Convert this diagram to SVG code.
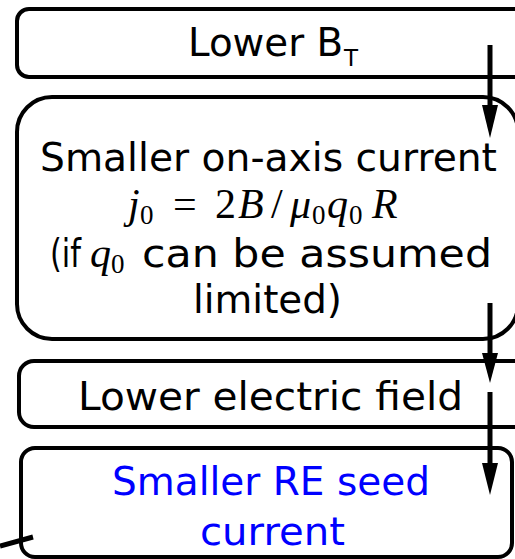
<svg xmlns="http://www.w3.org/2000/svg" width="515" height="559" viewBox="0 0 515 559">
<style>
.box{fill:#fff;stroke:#000;stroke-width:4}
.conn{stroke:#000;stroke-width:5;fill:none}
.head{fill:#000}
.t{font-family:"DejaVu Sans","Liberation Sans",sans-serif;font-size:39px;fill:#000}
.blue{fill:#0000FF}
.m{font-family:"Liberation Serif","DejaVu Serif",serif;font-size:42px;fill:#000}
.i{font-style:italic}
.sub{font-size:27px}
</style>
<rect width="515" height="559" fill="#fff"/>
<g id="node-lower-bt">
<rect class="box" x="17" y="9" width="530" height="68" rx="12"/>
<text class="t" x="188" y="56" textLength="155" lengthAdjust="spacingAndGlyphs">Lower B</text>
<text class="t" x="344" y="66" style="font-size:23px">T</text>
</g>
<g id="node-onaxis-current">
<rect class="box" x="17" y="97" width="501" height="242" rx="35"/>
<text class="t" x="40" y="171" textLength="457" lengthAdjust="spacingAndGlyphs">Smaller on-axis current</text>
<text class="m" y="218"><tspan x="128" class="i">j</tspan><tspan x="140" y="224" class="sub">0</tspan><tspan x="173" y="218">=</tspan><tspan x="215">2</tspan><tspan x="238" class="i">B</tspan><tspan x="271">/</tspan><tspan x="290" class="i">μ</tspan><tspan x="312" y="224" class="sub">0</tspan><tspan x="327" y="218" class="i">q</tspan><tspan x="349" y="224" class="sub">0</tspan><tspan x="372" y="218" class="i">R</tspan></text>
<text class="t" x="50" y="267" textLength="31" lengthAdjust="spacingAndGlyphs">(if</text>
<text class="m" y="267"><tspan x="90" class="i">q</tspan><tspan x="111" y="273" class="sub">0</tspan></text>
<text class="t" x="142" y="267" textLength="350" lengthAdjust="spacingAndGlyphs">can be assumed</text>
<text class="t" x="193" y="313" textLength="149" lengthAdjust="spacingAndGlyphs">limited)</text>
</g>
<g id="node-electric-field">
<rect class="box" x="19" y="361" width="530" height="66" rx="15"/>
<text class="t" x="78" y="410" textLength="385" lengthAdjust="spacingAndGlyphs">Lower electric field</text>
</g>
<g id="node-re-seed">
<rect class="box" x="21" y="448" width="491" height="109" rx="14"/>
<text class="t blue" x="112" y="495" textLength="318" lengthAdjust="spacingAndGlyphs">Smaller RE seed</text>
<text class="t blue" x="200" y="545" textLength="145" lengthAdjust="spacingAndGlyphs">current</text>
</g>
<g id="connectors">
<line class="conn" x1="490" y1="45" x2="490" y2="110"/>
<polygon class="head" points="482,105 498,105 490,138"/>
<line class="conn" x1="490" y1="303" x2="490" y2="358"/>
<polygon class="head" points="482,353 498,353 490,383"/>
<line class="conn" x1="490" y1="392" x2="490" y2="467"/>
<polygon class="head" points="482,463 498,463 490,495"/>
<line class="conn" x1="0" y1="546" x2="33" y2="537"/>
</g>
</svg>
